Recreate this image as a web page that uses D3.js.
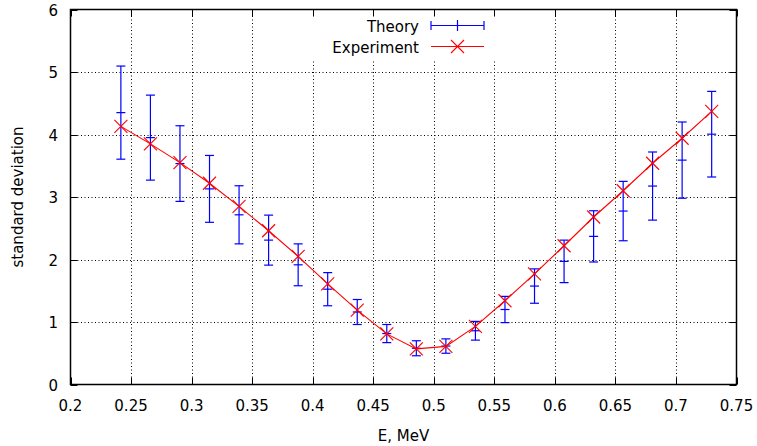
<!DOCTYPE html>
<html>
<head>
<meta charset="utf-8">
<script src="https://cdn.jsdelivr.net/npm/d3@7"></script>
<style>
  body { margin: 0; background: #fff; }
  svg text { font-family: "DejaVu Sans", sans-serif; font-size: 15px; fill: #000; }
</style>
</head>
<body>
<svg id="chart" width="757" height="446"></svg>
<script>
// energies, MeV
var energy = [0.2416, 0.2660, 0.2904, 0.3148, 0.3392, 0.3636, 0.3880, 0.4124, 0.4368, 0.4612, 0.4856,
  0.5100, 0.5344, 0.5588, 0.5832, 0.6076, 0.6320, 0.6564, 0.6807, 0.7051, 0.7295];
var theory = [4.35, 3.95, 3.535, 3.13, 2.715, 2.31, 1.915, 1.525, 1.16, 0.815, 0.58,
  0.615, 0.86, 1.20, 1.575, 1.97, 2.37, 2.775, 3.175, 3.59, 4.005];
var theoryErr = [0.745, 0.68, 0.605, 0.535, 0.465, 0.40, 0.335, 0.265, 0.20, 0.145, 0.12,
  0.115, 0.15, 0.21, 0.275, 0.34, 0.41, 0.475, 0.545, 0.61, 0.685];
var experiment = [4.13, 3.85, 3.55, 3.22, 2.85, 2.46, 2.05, 1.61, 1.19, 0.81, 0.57,
  0.61, 0.93, 1.34, 1.77, 2.22, 2.68, 3.10, 3.54, 3.94, 4.37];
var xTicks = [0.2, 0.25, 0.3, 0.35, 0.4, 0.45, 0.5, 0.55, 0.6, 0.65, 0.7, 0.75];
var yTicks = [0, 1, 2, 3, 4, 5, 6];

var svg = d3.select("#chart");
var pLeft = 70.5, pRight = 736.5, pTop = 9.5, pBottom = 384.5;

var x = d3.scaleLinear().domain([0.2, 0.75]).range([pLeft, pRight]);
var y = d3.scaleLinear().domain([0, 6]).range([pBottom, pTop]);

// grid
var grid = svg.append("g")
  .attr("stroke", "#000")
  .attr("stroke-width", 1)
  .attr("stroke-dasharray", "1,2.5");
grid.selectAll(".gx").data(xTicks.slice(1, -1)).enter().append("line")
  .attr("x1", function(d) { return Math.round(x(d)) + 0.5; })
  .attr("x2", function(d) { return Math.round(x(d)) + 0.5; })
  .attr("y1", pBottom).attr("y2", pTop);
grid.selectAll(".gy").data(yTicks.slice(1, -1)).enter().append("line")
  .attr("y1", function(d) { return Math.round(y(d)) + 0.5; })
  .attr("y2", function(d) { return Math.round(y(d)) + 0.5; })
  .attr("x1", pLeft).attr("x2", pRight);

// legend background hides the grid
svg.append("rect")
  .attr("x", 300).attr("y", pTop + 1)
  .attr("width", 196).attr("height", 50)
  .attr("fill", "#fff");

// axes with inward ticks, mirrored
var tickLen = 7;
var axes = svg.append("g").attr("stroke", "#000").attr("stroke-width", 1);
xTicks.forEach(function(d) {
  var px = Math.round(x(d)) + 0.5;
  axes.append("line").attr("x1", px).attr("x2", px).attr("y1", pBottom).attr("y2", pBottom - tickLen);
  axes.append("line").attr("x1", px).attr("x2", px).attr("y1", pTop).attr("y2", pTop + tickLen);
});
yTicks.forEach(function(d) {
  var py = Math.round(y(d)) + 0.5;
  axes.append("line").attr("y1", py).attr("y2", py).attr("x1", pLeft).attr("x2", pLeft + tickLen);
  axes.append("line").attr("y1", py).attr("y2", py).attr("x1", pRight).attr("x2", pRight - tickLen);
});
axes.append("rect")
  .attr("x", pLeft).attr("y", pTop)
  .attr("width", pRight - pLeft).attr("height", pBottom - pTop)
  .attr("fill", "none").attr("stroke-width", 1.5);

// tick labels
svg.selectAll(".xl").data(xTicks).enter().append("text")
  .attr("x", function(d) { return x(d); })
  .attr("y", 411)
  .attr("text-anchor", "middle")
  .text(function(d) { return d; });
svg.selectAll(".yl").data(yTicks).enter().append("text")
  .attr("x", 58)
  .attr("y", function(d) { return y(d) + 6; })
  .attr("text-anchor", "end")
  .text(function(d) { return d; });

// axis titles
svg.append("text")
  .attr("x", (pLeft + pRight) / 2).attr("y", 441)
  .attr("text-anchor", "middle")
  .text("E, MeV");
svg.append("text")
  .attr("transform", "translate(23," + ((pTop + pBottom) / 2) + ") rotate(-90)")
  .attr("text-anchor", "middle")
  .text("standard deviation");

// theory error bars
var cap = 4.5;
var blue = "#0000ff", red = "#ff0000";
var tg = svg.append("g").attr("stroke", blue).attr("stroke-width", 1.2);
energy.forEach(function(e, i) {
  var px = x(e);
  var yt = y(theory[i] + theoryErr[i]), yb = y(theory[i] - theoryErr[i]), yc = y(theory[i]);
  tg.append("line").attr("x1", px).attr("x2", px).attr("y1", yt).attr("y2", yb);
  tg.append("line").attr("x1", px - cap).attr("x2", px + cap).attr("y1", yt).attr("y2", yt);
  tg.append("line").attr("x1", px - cap).attr("x2", px + cap).attr("y1", yb).attr("y2", yb);
  tg.append("line").attr("x1", px - cap).attr("x2", px + cap).attr("y1", yc).attr("y2", yc);
});

// experiment line and markers
var line = d3.line()
  .x(function(d, i) { return x(energy[i]); })
  .y(function(d) { return y(d); });
svg.append("path")
  .datum(experiment)
  .attr("d", line)
  .attr("fill", "none")
  .attr("stroke", red)
  .attr("stroke-width", 1.1);

var m = 6.5;
function cross(g, cx, cy) {
  g.append("line").attr("x1", cx - m).attr("y1", cy - m).attr("x2", cx + m).attr("y2", cy + m);
  g.append("line").attr("x1", cx - m).attr("y1", cy + m).attr("x2", cx + m).attr("y2", cy - m);
}
var eg = svg.append("g").attr("stroke", red).attr("stroke-width", 1.1);
experiment.forEach(function(v, i) { cross(eg, x(energy[i]), y(v)); });

// legend
var lx1 = 431, lx2 = 484, lmid = (lx1 + lx2) / 2;
var ty = 25.5, ey = 46.5;
svg.append("text").attr("x", 419).attr("y", ty + 6).attr("text-anchor", "end").text("Theory");
svg.append("text").attr("x", 419).attr("y", ey + 6).attr("text-anchor", "end").text("Experiment");
var lg = svg.append("g").attr("stroke", blue).attr("stroke-width", 1.2);
lg.append("line").attr("x1", lx1).attr("x2", lx2).attr("y1", ty).attr("y2", ty);
lg.append("line").attr("x1", lx1).attr("x2", lx1).attr("y1", ty - cap).attr("y2", ty + cap);
lg.append("line").attr("x1", lx2).attr("x2", lx2).attr("y1", ty - cap).attr("y2", ty + cap);
lg.append("line").attr("x1", lmid).attr("x2", lmid).attr("y1", ty - cap - 1).attr("y2", ty + cap + 1);
var le = svg.append("g").attr("stroke", red).attr("stroke-width", 1.1);
le.append("line").attr("x1", lx1).attr("x2", lx2).attr("y1", ey).attr("y2", ey);
cross(le, lmid, ey);
</script>
</body>
</html>
